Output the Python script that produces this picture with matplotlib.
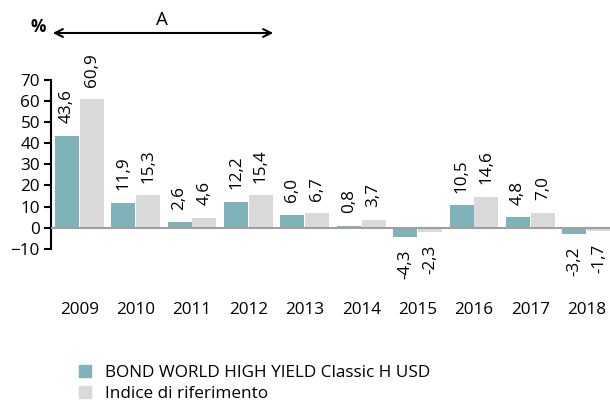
import numpy as np
import matplotlib
matplotlib.use("Agg")
import matplotlib.pyplot as plt
from matplotlib.patches import Patch, FancyArrowPatch

plt.rcParams.update({"font.family": ["Open Sans", "DejaVu Sans"], "font.size": 12.3})

years = ["2009", "2010", "2011", "2012", "2013", "2014", "2015", "2016", "2017", "2018"]
fund = [43.6, 11.9, 2.6, 12.2, 6.0, 0.8, -4.3, 10.5, 4.8, -3.2]
index = [60.9, 15.3, 4.6, 15.4, 6.7, 3.7, -2.3, 14.6, 7.0, -1.7]
fund_name = "BOND WORLD HIGH YIELD Classic H USD"
index_name = "Indice di riferimento"

c_fund, c_idx = "#7fb3b9", "#d9d9d9"
fs = 12.3

fig = plt.figure(figsize=(6.1, 4.03), dpi=100)
ax = fig.add_axes([51 / 610, 1 - 295 / 403, 559 / 610, (295 - 17) / 403])

x = np.arange(len(years))
w = 0.44
ax.bar(x - w / 2, fund, w - 0.015, color=c_fund, zorder=2)
ax.bar(x + w / 2, index, w - 0.015, color=c_idx, zorder=2)
ax.axhline(0, color="#a0a0a0", lw=1.5, zorder=3)

for xs, vals in ((x - w / 2, fund), (x + w / 2, index)):
    for xi, v in zip(xs, vals):
        lab = f"{v:.1f}".replace(".", ",")
        off = 9 if v >= 0 else -9
        ax.annotate(lab, (xi, v), xytext=(0, off), textcoords="offset points",
                    rotation=90, ha="center", va="bottom" if v >= 0 else "top",
                    fontsize=fs)

ax.set_xlim(-0.5, 9.41)
ax.set_ylim(-32, 100)
ax.set_yticks(range(-10, 71, 10))
ax.spines["left"].set_bounds(-10, 70)
ax.spines["left"].set_linewidth(1.5)
for s in ("top", "right", "bottom"):
    ax.spines[s].set_visible(False)
ax.set_xticks(x)
ax.set_xticklabels(years)
ax.tick_params(axis="x", length=0, pad=5)
ax.tick_params(axis="y", length=5, width=1.5, pad=3)
ax.patch.set_alpha(0)

fig.text(38 / 610, 1 - 27 / 403, "%", fontweight="bold", ha="center", va="center", fontsize=fs)
fig.patches.append(FancyArrowPatch(
    (50 / 610, 1 - 33 / 403), (276 / 610, 1 - 33 / 403), transform=fig.transFigure,
    arrowstyle="<->", mutation_scale=14, lw=1.5, color="black"))
fig.text(162 / 610, 1 - 20 / 403, "A", ha="center", va="center", fontsize=13.5)

handles = [Patch(color=c_fund, label=fund_name), Patch(color=c_idx, label=index_name)]
fig.legend(handles=handles, loc="upper left", bbox_to_anchor=(70 / 610, 1 - 356 / 403),
           frameon=False, handlelength=0.75, handleheight=0.75, handletextpad=0.8,
           labelspacing=0.3, fontsize=fs, borderpad=0)

fig.savefig("out.png", dpi=100)
